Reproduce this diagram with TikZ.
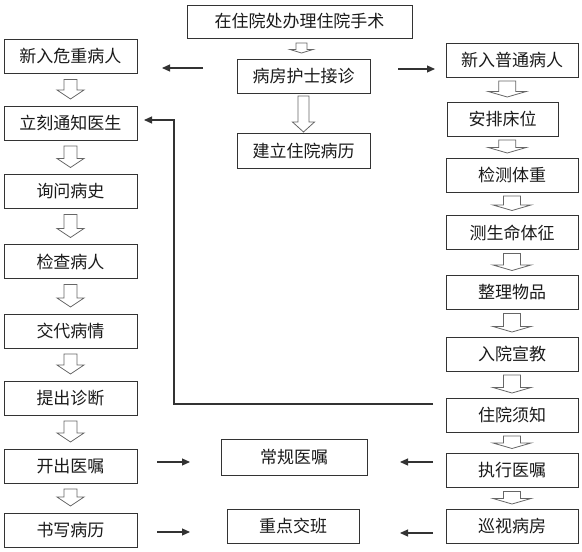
\documentclass[tikz,border=0pt]{standalone}
\usepackage{fontspec}
\setmainfont{Noto Sans CJK SC}
\usepackage{tikz}
\usetikzlibrary{arrows.meta,positioning,calc}
\definecolor{boxline}{HTML}{333333}
\definecolor{hollowline}{HTML}{666666}
\definecolor{txtcol}{HTML}{1A1A1A}
\tikzset{
  box/.style={draw=boxline, line width=0.9pt, fill=white, text=txtcol, minimum height=34pt,
    inner sep=0pt, outer sep=0pt, font=\fontsize{17pt}{20pt}\selectfont},
  leftbox/.style={box, minimum width=133pt},
  rightbox/.style={box, minimum width=132pt},
  flow/.style={-{Triangle[length=8pt,width=7pt]}, draw=boxline, line width=1.1pt},
  hollow/.style={draw=hollowline, fill=white, line width=0.8pt, line join=miter},
}
% from, to, half shaft, half head, head length, top gap, bottom gap
\newcommand{\hollowarrow}[7]{%
  \coordinate (ht) at ($(#1.south)+(0,-#6)$);
  \coordinate (hb) at ($(#2.north)+(0,#7)$);
  \coordinate (hm) at ($(ht)!0.5!(hb)$);
  \draw[hollow] ($(hm|-ht)+(-#3,0)$) -- ($(hm|-hb)+(-#3,#5)$) -- ($(hm|-hb)+(-#4,#5)$)
    -- (hm|-hb) -- ($(hm|-hb)+(#4,#5)$) -- ($(hm|-hb)+(#3,#5)$) -- ($(hm|-ht)+(#3,0)$) -- cycle;
}
\begin{document}
\begin{tikzpicture}[x=1pt,y=1pt]
\useasboundingbox (0,0) rectangle (582,-552);

% middle
\node[box, minimum width=225pt, minimum height=33pt] (banli) at (299.5,-21.5) {在住院处办理住院手术};
\node[box, minimum width=133pt] (jiezhen) at (303.5,-76) {病房护士接诊};
\node[box, minimum width=133pt, minimum height=35pt, below=40pt of jiezhen] (bingli) {建立住院病历};
\node[box, minimum width=146pt, minimum height=36pt] (changgui) at (294,-457) {常规医嘱};
\node[box, minimum width=132pt] (zhongdian) at (293,-526) {重点交班};

% left column
\node[leftbox] (weizhong) at (70.5,-56.5) {新入危重病人};
\node[leftbox, below=32.5pt of weizhong] (tongzhi) {立刻通知医生};
\node[leftbox, below=34.5pt of tongzhi] (xunwen) {询问病史};
\node[leftbox, below=36pt of xunwen] (jiancha) {检查病人};
\node[leftbox, below=35.5pt of jiancha] (jiaodai) {交代病情};
\node[leftbox, below=33pt of jiaodai] (zhenduan) {提出诊断};
\node[leftbox, below=34pt of zhenduan] (kaichu) {开出医嘱};
\node[leftbox, below=30pt of kaichu] (shuxie) {书写病历};

% right column
\node[rightbox] (putong) at (512,-60) {新入普通病人};
\node[box, minimum width=111pt, below=25pt of putong, xshift=-9.5pt] (anpai) {安排床位};
\node[rightbox, below=22pt of anpai, xshift=9.5pt] (tizhong) {检测体重};
\node[rightbox, below=23.5pt of tizhong] (tizheng) {测生命体征};
\node[rightbox, below=26pt of tizheng] (wupin) {整理物品};
\node[rightbox, below=27.5pt of wupin] (xuanjiao) {入院宣教};
\node[rightbox, below=27pt of xuanjiao] (xuzhi) {住院须知};
\node[rightbox, below=21.5pt of xuzhi] (zhixing) {执行医嘱};
\node[rightbox, below=21.5pt of zhixing] (xunshi) {巡视病房};

% hollow arrows
\hollowarrow{banli}{jiezhen}{5.5}{11.5}{3.5}{5}{6}
\hollowarrow{jiezhen}{bingli}{5.5}{11}{10}{3}{1}
\foreach \a/\b in {weizhong/tongzhi, tongzhi/xunwen, xunwen/jiancha, jiancha/jiaodai,
    jiaodai/zhenduan, zhenduan/kaichu, kaichu/shuxie}
  {\hollowarrow{\a}{\b}{6.5}{13.5}{9}{6}{7}}
\foreach \a/\b in {putong/anpai, anpai/tizhong, tizhong/tizheng, tizheng/wupin,
    wupin/xuanjiao, xuanjiao/xuzhi, xuzhi/zhixing, zhixing/xunshi}
  {\hollowarrow{\a}{\b}{8.5}{19}{5.5}{4}{5}}

% connectors
\draw[flow, shorten <=34pt, shorten >=25pt] ([yshift=8pt]jiezhen.west) -- ([yshift=8pt]jiezhen.west -| weizhong.east);
\draw[flow, shorten <=28pt, shorten >=11pt] ([yshift=7pt]jiezhen.east) -- ([yshift=7pt]jiezhen.east -| putong.west);
\draw[flow] ([xshift=-13pt,yshift=11pt]xuzhi.west) -- ++(-259,0) |- ([xshift=7pt,yshift=3pt]tongzhi.east);
\draw[flow, shorten <=20pt, shorten >=31pt] ([yshift=4pt]kaichu.east) -- ([yshift=4pt]kaichu.east -| changgui.west);
\draw[flow, shorten <=20pt, shorten >=37pt] ([yshift=-2pt]shuxie.east) -- ([yshift=-2pt]shuxie.east -| zhongdian.west);
\draw[flow, shorten <=13pt, shorten >=33pt] ([yshift=8.5pt]zhixing.west) -- ([yshift=8.5pt]zhixing.west -| changgui.east);
\draw[flow, shorten <=13pt, shorten >=41pt] ([yshift=-7pt]xunshi.west) -- ([yshift=-7pt]xunshi.west -| zhongdian.east);
\end{tikzpicture}
\end{document}
